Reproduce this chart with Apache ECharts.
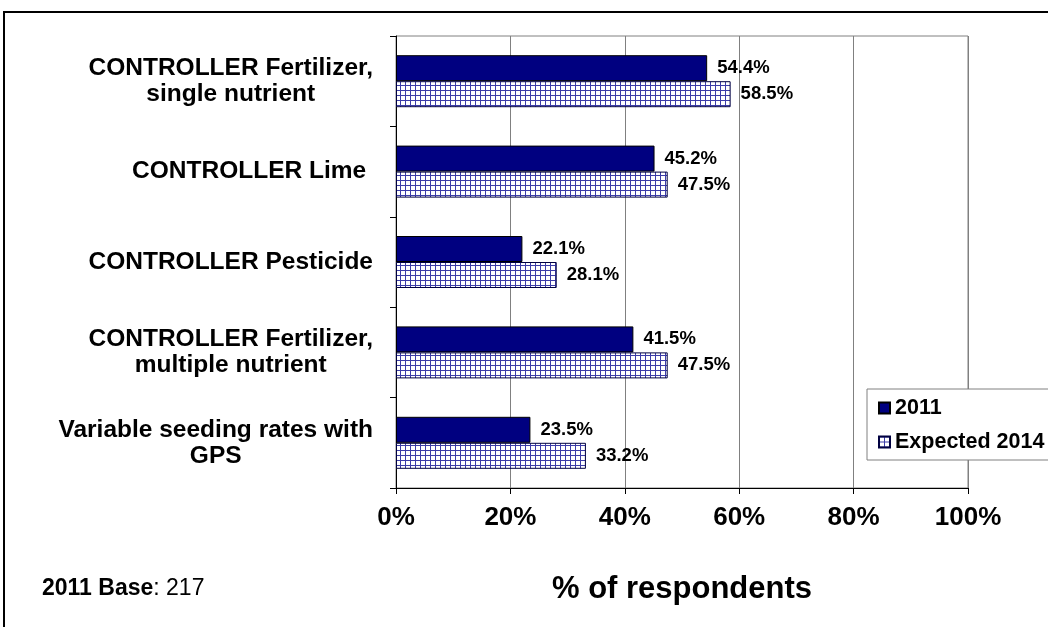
<!DOCTYPE html>
<html>
<head>
<meta charset="utf-8">
<script src="https://cdn.jsdelivr.net/npm/echarts@6/dist/echarts.min.js"></script>
<style>
  html, body { margin: 0; padding: 0; background: #fff; }
  #chart { width: 1048px; height: 627px; }
</style>
</head>
<body>
<div id="chart"></div>
<script>
// categories, top to bottom
var categories = [
    'CONTROLLER Fertilizer,\nsingle nutrient',
    'CONTROLLER Lime ',
    'CONTROLLER Pesticide',
    'CONTROLLER Fertilizer,\nmultiple nutrient',
    'Variable seeding rates with\nGPS'
];
var values2011 = [54.4, 45.2, 22.1, 41.5, 23.5];
var values2014 = [58.5, 47.5, 28.1, 47.5, 33.2];
var xTicks = [0, 20, 40, 60, 80, 100];

var font = '"Liberation Sans", Arial, sans-serif';

// small grid pattern for the "Expected 2014" bars
var pat = document.createElement('canvas');
pat.width = 5;
pat.height = 5;
var ctx = pat.getContext('2d');
ctx.fillStyle = '#ffffff';
ctx.fillRect(0, 0, 5, 5);
ctx.fillStyle = '#3c3ca8';
ctx.fillRect(0, 0, 5, 1);
ctx.fillRect(0, 0, 1, 5);

var myChart = echarts.init(document.getElementById('chart'));

var labelStyle = {
    show: true,
    position: 'right',
    distance: 10,
    color: '#000',
    fontFamily: font,
    fontWeight: 'bold',
    fontSize: 18.5,
    formatter: function (p) { return p.value.toFixed(1) + '%'; }
};

var option = {
    backgroundColor: '#fff',
    animation: false,
    grid: {
        left: 396, right: 80, top: 36, bottom: 139,
        show: true, borderColor: '#808080', borderWidth: 1
    },
    legend: {
        orient: 'vertical',
        left: 867, top: 389,
        padding: [8, 40, 7, 11],
        backgroundColor: '#fff',
        borderColor: '#808080',
        borderWidth: 1,
        icon: 'rect',
        itemWidth: 11, itemHeight: 11,
        itemGap: 12,
        textStyle: { fontFamily: font, fontWeight: 'bold', fontSize: 21.5, color: '#000' },
        data: ['2011', 'Expected 2014']
    },
    xAxis: {
        type: 'value',
        min: 0, max: 100, interval: 20,
        name: '% of respondents',
        nameLocation: 'middle',
        nameGap: 86,
        nameTextStyle: { fontFamily: font, fontWeight: 'bold', fontSize: 31, color: '#000' },
        axisLine: { show: true, lineStyle: { color: '#000', width: 1 } },
        axisTick: { show: true, length: 6, lineStyle: { color: '#000' } },
        axisLabel: {
            margin: 17,
            fontFamily: font, fontWeight: 'bold', fontSize: 26, color: '#000',
            formatter: function (v) { return xTicks.indexOf(v) >= 0 ? v + '%' : ''; }
        },
        splitLine: { show: true, lineStyle: { color: '#808080', width: 1 } }
    },
    yAxis: {
        type: 'category',
        inverse: true,
        data: categories,
        axisLine: { show: true, lineStyle: { color: '#000', width: 1 } },
        axisTick: { show: true, length: 6, alignWithLabel: false, lineStyle: { color: '#000' } },
        axisLabel: {
            margin: 23,
            color: '#000',
            formatter: function (v) {
                return v.split('\n').map(function (s) { return '{c|' + s + '}'; }).join('\n');
            },
            rich: {
                c: { align: 'center', fontFamily: font, fontWeight: 'bold', fontSize: 24.5, lineHeight: 26, color: '#000' }
            }
        },
        splitLine: { show: false }
    },
    series: [
        {
            name: '2011',
            type: 'bar',
            data: values2011,
            barWidth: 26,
            barGap: '0%',
            itemStyle: { color: '#000080', borderColor: '#000000', borderWidth: 1 },
            label: labelStyle
        },
        {
            name: 'Expected 2014',
            type: 'bar',
            data: values2014,
            barWidth: 26,
            barGap: '0%',
            itemStyle: { color: { image: pat, repeat: 'repeat' }, borderColor: '#000040', borderWidth: 1 },
            label: labelStyle
        }
    ],
    graphic: [
        {
            type: 'rect',
            shape: { x: 4, y: 12, width: 1100, height: 700 },
            style: { fill: 'none', stroke: '#000', lineWidth: 2 },
            silent: true
        },
        {
            type: 'text',
            left: 42, top: 577,
            style: {
                text: '{b|2011 Base}{r|: 217}',
                rich: {
                    b: { fontFamily: font, fontWeight: 'bold', fontSize: 23, color: '#000' },
                    r: { fontFamily: font, fontSize: 23, color: '#000' }
                }
            }
        }
    ]
};

myChart.setOption(option);
</script>
</body>
</html>
